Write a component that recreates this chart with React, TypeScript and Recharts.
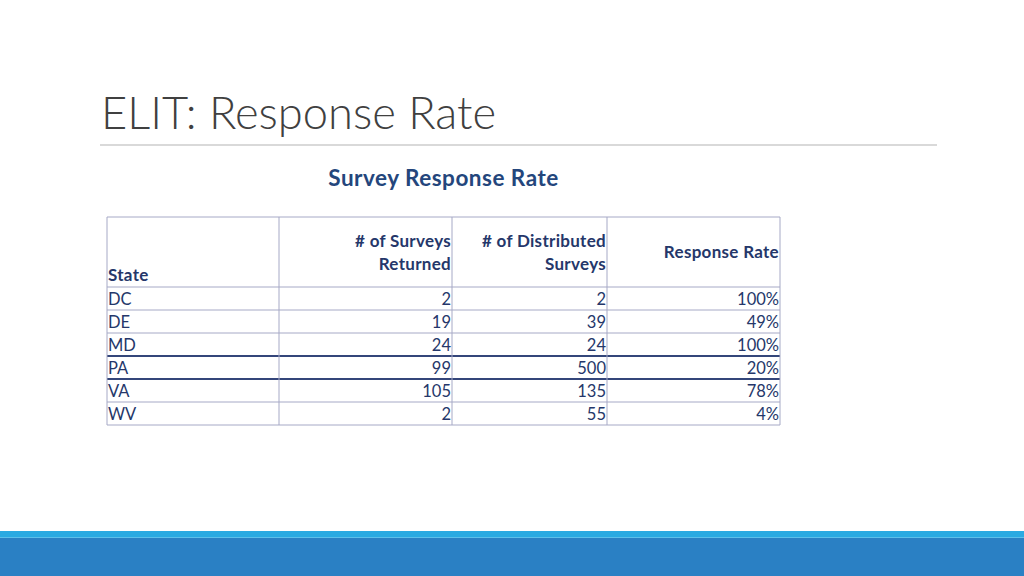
import React from 'react';
import { ComposedChart, XAxis, YAxis, Scatter, ReferenceLine } from 'recharts';

// ---- data ----
const states = ['DC', 'DE', 'MD', 'PA', 'VA', 'WV'];
const surveysReturned = [2, 19, 24, 99, 105, 2];
const surveysDistributed = [2, 39, 24, 500, 135, 55];
const responseRatePct = [100, 49, 100, 20, 78, 4];
const headerState = ['State'];
const headerReturned = ['# of Surveys', 'Returned'];
const headerDistributed = ['# of Distributed', 'Surveys'];
const headerRate = ['Response Rate'];
const slideTitle = 'ELIT: Response Rate';
const tableTitle = 'Survey Response Rate';

// ---- layout ----
const COL_EDGES = [0, 172, 345, 500, 673];
const HEADER_UNITS = 70 / 23;
const TEXT = '#25376a';
const FONT = 'Lato, "Open Sans", sans-serif';

type Cell = { x: number; y: number; text: string; anchor: 'start' | 'end'; bold: boolean };

const cells: Cell[] = [];
// header
cells.push({ x: 1, y: -0.27, text: headerState[0], anchor: 'start', bold: true });
headerReturned.forEach((t, k) => cells.push({ x: COL_EDGES[2] - 1, y: k === 0 ? -1.74 : -0.74, text: t, anchor: 'end', bold: true }));
headerDistributed.forEach((t, k) => cells.push({ x: COL_EDGES[3] - 1, y: k === 0 ? -1.74 : -0.74, text: t, anchor: 'end', bold: true }));
cells.push({ x: COL_EDGES[4] - 1, y: -1.24, text: headerRate[0], anchor: 'end', bold: true });
// body
states.forEach((s, i) => {
  const yb = i + 0.78;
  cells.push({ x: 1, y: yb, text: s, anchor: 'start', bold: false });
  cells.push({ x: COL_EDGES[2] - 1, y: yb, text: String(surveysReturned[i]), anchor: 'end', bold: false });
  cells.push({ x: COL_EDGES[3] - 1, y: yb, text: String(surveysDistributed[i]), anchor: 'end', bold: false });
  cells.push({ x: COL_EDGES[4] - 1, y: yb, text: `${responseRatePct[i]}%`, anchor: 'end', bold: false });
});

const rowLines = [-HEADER_UNITS, 0, 1, 2, 3, 4, 5, 6];
const darkRows = [3, 4];

const CellText = (props: any) => {
  const { cx, cy, payload } = props;
  if (cx == null || cy == null) return null;
  return (
    <text
      x={cx}
      y={cy}
      textAnchor={payload.anchor}
      fontFamily={FONT}
      fontSize={payload.bold ? 17 : 16.5}
      letterSpacing={payload.bold ? 0.3 : 0}
      fontWeight={payload.bold ? 700 : 400}
      fill={TEXT}
    >
      {payload.text}
    </text>
  );
};

export default function App() {
  return (
    <div style={{ position: 'absolute', left: 0, top: 0, width: 1024, height: 576, background: '#fff', overflow: 'hidden' }}>
      <svg width={1024} height={576} style={{ position: 'absolute', left: 0, top: 0 }}>
        <text x={101} y={129} fontFamily={FONT} fontWeight={300} fontSize={45.3} fill="#404040">
          {slideTitle}
        </text>
        <line x1={100} y1={145} x2={937} y2={145} stroke="#d9d9d9" strokeWidth={2} />
        <text x={443.5} y={186} textAnchor="middle" fontFamily={FONT} fontWeight={700} fontSize={22.5} letterSpacing={0.5} fill="#24467c">
          {tableTitle}
        </text>
        <rect x={0} y={531} width={1024} height={6} fill="#2aaae2" />
        <rect x={0} y={537} width={1024} height={1} fill="#5cc0ea" />
        <rect x={0} y={538} width={1024} height={38} fill="#2a80c4" />
      </svg>
      <div style={{ position: 'absolute', left: 0, top: 0 }}>
        <ComposedChart
          width={1024}
          height={576}
          margin={{ top: 217, left: 107, right: 244, bottom: 151 }}
          data={cells}
        >
          <XAxis type="number" dataKey="x" domain={[0, COL_EDGES[4]]} allowDataOverflow hide />
          <YAxis type="number" dataKey="y" domain={[-HEADER_UNITS, 6]} allowDataOverflow reversed hide />
          {rowLines.map((v) => (
            <ReferenceLine
              key={`r${v}`}
              y={v}
              ifOverflow="visible"
              stroke={darkRows.includes(v) ? '#34467a' : '#a6a9c6'}
              strokeWidth={darkRows.includes(v) ? 2 : 1}
            />
          ))}
          {COL_EDGES.map((v) => (
            <ReferenceLine key={`c${v}`} x={v} ifOverflow="visible" stroke="#a6a9c6" strokeWidth={1} />
          ))}
          <Scatter data={cells} dataKey="y" shape={<CellText />} isAnimationActive={false} />
        </ComposedChart>
      </div>
    </div>
  );
}
